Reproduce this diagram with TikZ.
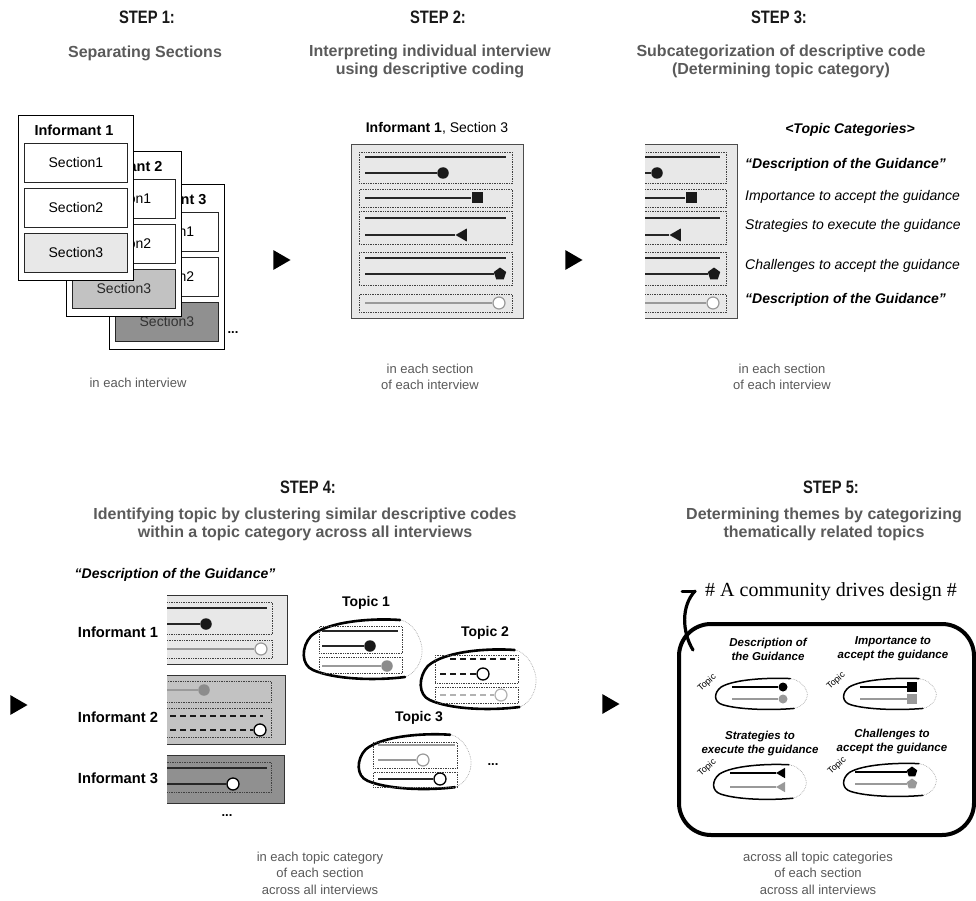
\documentclass[tikz,border=0pt]{standalone}
\usepackage{fontspec}
\setmainfont{Liberation Sans}
\newfontfamily\narrowsans[FakeStretch=0.82]{Liberation Sans}
\newfontfamily\serifface{Liberation Serif}
\usetikzlibrary{shapes.geometric}

\definecolor{paneA}{HTML}{E8E8E8}
\definecolor{paneB}{HTML}{C2C2C2}
\definecolor{paneC}{HTML}{909090}
\definecolor{midgray}{HTML}{8C8C8C}
\definecolor{lightline}{HTML}{9A9A9A}
\definecolor{subgray}{HTML}{5A5A5A}

% one coded section: dotted code groups with marker-ended code lines
\newcommand\codepanel[2]{%
 \begin{scope}[shift={(#1,144)}]
  \node[panelbox, minimum width=172, minimum height=174] (pan#2) at (0,0) {};
  \node[dotbox, minimum width=153, minimum height=31] (da#2) at (8,8) {};
  \node[dotbox, minimum width=153, minimum height=18] (db#2) at (8,45) {};
  \node[dotbox, minimum width=153, minimum height=33] (dc#2) at (8,67) {};
  \node[dotbox, minimum width=153, minimum height=33] (dd#2) at (8,108) {};
  \node[dotbox, minimum width=153, minimum height=18] (de#2) at (8,150) {};
  \coordinate (la#2) at (14,13); \coordinate (lb#2) at (155,13);
  \draw[codeline] (la#2) -- (lb#2);
  \node[bigdot] (ma#2) at (92,29) {};
  \coordinate (lc#2) at (14,29); \draw[codeline] (lc#2) -- (ma#2);
  \node[sqmark] (mb#2) at (126,54) {};
  \coordinate (ld#2) at (14,54); \draw[codeline] (ld#2) -- (mb#2);
  \coordinate (le#2) at (14,74); \coordinate (lf#2) at (155,74);
  \draw[codeline] (le#2) -- (lf#2);
  \node[trimark] (mc#2) at (112,91) {};
  \coordinate (lg#2) at (14,91); \draw[codeline] (lg#2) -- (mc#2);
  \coordinate (lh#2) at (14,114); \coordinate (li#2) at (155,114);
  \draw[codeline] (lh#2) -- (li#2);
  \node[pentmark] (md#2) at (149,130) {};
  \coordinate (lj#2) at (14,130); \draw[codeline] (lj#2) -- (md#2);
  \node[opendotg] (me#2) at (148,159) {};
  \coordinate (lk#2) at (14,159); \draw[grayline] (lk#2) -- (me#2);
 \end{scope}}

% sketched topic outline: bold stroke round the left, faint dotted on the right
\newcommand\topicblob[5]{%
 \begin{scope}[shift={(#1,#2)}, xscale=#3, yscale=#4]
  \draw[blobrest] (102,60) .. controls (115,56) and (122,38) .. (118,26)
        .. controls (114,12) and (105,4) .. (97,3);
  \draw[blobedge, line width=#5] (97,3) .. controls (70,1) and (25,4) .. (8,19)
        .. controls (-2,30) and (-2,48) .. (10,53)
        .. controls (30,62) and (70,64) .. (102,60);
 \end{scope}}

\begin{document}
\begin{tikzpicture}[x=1pt,y=-1pt,
  stephead/.style={font=\fontsize{18}{20}\selectfont\narrowsans\bfseries, text=black!90, inner sep=0},
  subhead/.style={font=\fontsize{16}{18}\selectfont\bfseries, text=subgray, align=center, inner sep=0},
  note/.style={font=\fontsize{13}{16.5}\selectfont, text=black!65, align=center, inner sep=0},
  card/.style={draw=black, line width=0.8pt, fill=white, anchor=north west, inner sep=0},
  cardlab/.style={font=\fontsize{14.5}{16}\selectfont\bfseries, inner sep=0},
  secbox/.style={draw=black!85, line width=0.8pt, fill=white, anchor=north west,
     minimum width=103, minimum height=39, inner sep=0, font=\fontsize{14}{16}\selectfont},
  panelbox/.style={draw=black!70, fill=paneA, line width=1pt, anchor=north west, inner sep=0},
  pane4/.style={draw=black!80, line width=1.2pt, anchor=north west, inner sep=0},
  dotbox/.style={draw=black!75, densely dotted, line width=0.7pt, anchor=north west, inner sep=0},
  codeline/.style={draw=black!85, line width=1.5pt},
  grayline/.style={draw=lightline, line width=1.3pt},
  dashline/.style={draw=black!90, line width=1.5pt, dash pattern=on 6pt off 4pt},
  lightdash/.style={draw=black!30, line width=1.3pt, dash pattern=on 6pt off 4pt},
  bigdot/.style={circle, fill=black!90, minimum size=11.5, inner sep=0},
  graydot/.style={circle, fill=midgray, minimum size=11.5, inner sep=0},
  opendotg/.style={circle, draw=lightline, fill=white, line width=1.2pt, minimum size=12, inner sep=0},
  opendotk/.style={circle, draw=black, fill=white, line width=1.3pt, minimum size=12, inner sep=0},
  opendotl/.style={circle, draw=black!30, fill=white, line width=1.2pt, minimum size=12, inner sep=0},
  sqmark/.style={rectangle, fill=black!90, minimum size=11, inner sep=0},
  trimark/.style={regular polygon, regular polygon sides=3, shape border rotate=90, fill=black!90, minimum size=15, inner sep=0},
  pentmark/.style={regular polygon, regular polygon sides=5, fill=black!90, minimum size=13, inner sep=0},
  stepmark/.style={regular polygon, regular polygon sides=3, shape border rotate=-90, fill=black, minimum size=23, inner sep=0},
  catit/.style={font=\fontsize{14}{16}\selectfont\itshape, anchor=west, inner sep=0},
  catbf/.style={font=\fontsize{14}{16}\selectfont\bfseries\itshape, anchor=west, inner sep=0},
  toplab/.style={font=\fontsize{14}{16}\selectfont\bfseries, inner sep=0},
  blobedge/.style={draw=black, line cap=round, line join=round},
  blobrest/.style={draw=black!35, densely dotted, line width=0.7pt},
  themelab/.style={font=\fontsize{11.5}{14}\selectfont\bfseries\itshape, align=center, inner sep=0},
  tinytopic/.style={font=\fontsize{9}{10}\selectfont, rotate=42, inner sep=0},
  smallline/.style={draw=black, line width=1.2pt},
  smallgray/.style={draw=black!40, line width=1.2pt},
  sdot/.style={circle, fill=black, minimum size=9, inner sep=0},
  sdotg/.style={circle, fill=black!40, minimum size=9, inner sep=0},
  ssq/.style={rectangle, fill=black, minimum size=10, inner sep=0},
  ssqg/.style={rectangle, fill=black!40, minimum size=10, inner sep=0},
  stri/.style={regular polygon, regular polygon sides=3, shape border rotate=90, fill=black, minimum size=12, inner sep=0},
  strig/.style={regular polygon, regular polygon sides=3, shape border rotate=90, fill=black!40, minimum size=12, inner sep=0},
  spent/.style={regular polygon, regular polygon sides=5, fill=black, minimum size=11, inner sep=0},
  spentg/.style={regular polygon, regular polygon sides=5, fill=black!40, minimum size=11, inner sep=0},
  dots/.style={font=\fontsize{13}{14}\selectfont\bfseries, inner sep=0}
]
\useasboundingbox (0,0) rectangle (976,901);

% ---------------- headings ----------------
\node[stephead] (h1) at (147,17) {STEP 1:};
\node[subhead] (t1) at (145,53) {Separating Sections};
\node[stephead] (h2) at (438,17) {STEP 2:};
\node[subhead] (t2) at (430,61) {Interpreting individual interview\\using descriptive coding};
\node[stephead] (h3) at (779,17) {STEP 3:};
\node[subhead] (t3) at (781,61) {Subcategorization of descriptive code\\(Determining topic category)};
\node[stephead] (h4) at (308,487) {STEP 4:};
\node[subhead] (t4) at (305,524) {Identifying topic by clustering similar descriptive codes\\within a topic category across all interviews};
\node[stephead] (h5) at (831,487) {STEP 5:};
\node[subhead] (t5) at (824,524) {Determining themes by categorizing\\thematically related topics};

% ---------------- step 1: stacked interviews ----------------
\node[card, minimum width=115, minimum height=165] (inf3) at (109,184) {};
\node[cardlab] (inf3lab) at (167,199) {Informant 3};
\node[secbox] (s31) at (115,212) {Section1};
\node[secbox] (s32) at (115,257) {Section2};
\node[secbox, fill=paneC, text=black!80] (s33) at (115,302) {Section3};

\node[card, minimum width=115, minimum height=165] (inf2) at (66,151) {};
\node[cardlab] (inf2lab) at (123,166) {Informant 2};
\node[secbox] (s21) at (72,179) {Section1};
\node[secbox] (s22) at (72,224) {Section2};
\node[secbox, fill=paneB, text=black!85] (s23) at (72,269) {Section3};

\node[card, minimum width=115, minimum height=165] (inf1) at (18,115) {};
\node[cardlab] (inf1lab) at (74,130) {Informant 1};
\node[secbox] (s11) at (24,143) {Section1};
\node[secbox] (s12) at (24,188) {Section2};
\node[secbox, fill=paneA] (s13) at (24,233) {Section3};

\node[dots] (more1) at (233,333) {...};
\node[note] (n1) at (138,383) {in each interview};

\node[stepmark] (a12) at (279,260) {};
\node[stepmark] (a23) at (571,260) {};

% ---------------- step 2: coded section ----------------
\node[font=\fontsize{14}{16}\selectfont, inner sep=0] (s2title) at (437,128) {\textbf{Informant 1}, Section 3};
\codepanel{351}{a}
\node[note] (n2) at (430,377) {in each section\\of each interview};

% ---------------- step 3: topic categories ----------------
\begin{scope}
  \clip (645,120) rectangle (760,330);
  \codepanel{565}{b}
\end{scope}
\node[font=\fontsize{14}{16}\selectfont\bfseries\itshape, inner sep=0] (cathead) at (850,130) {<Topic Categories>};
\node[catbf] (c1) at (745,165) {“Description of the Guidance”};
\node[catit] (c2) at (745,197) {Importance to accept the guidance};
\node[catit] (c3) at (745,226) {Strategies to execute the guidance};
\node[catit] (c4) at (745,266) {Challenges to accept the guidance};
\node[catbf] (c5) at (745,300) {“Description of the Guidance”};
\node[note] (n3) at (782,377) {in each section\\of each interview};

% ---------------- step 4: clustering across interviews ----------------
\node[stepmark] (a34) at (16,705) {};
\node[font=\fontsize{14}{16}\selectfont\bfseries\itshape, inner sep=0] (g4) at (175,575) {“Description of the Guidance”};

\begin{scope}
  \clip (167,585) rectangle (300,810);
  % informant 1
  \node[pane4, fill=paneA, minimum width=127, minimum height=69] (q1) at (160,595) {};
  \node[dotbox, minimum width=122, minimum height=32] (q1a) at (150,602) {};
  \node[dotbox, minimum width=122, minimum height=18] (q1b) at (150,640) {};
  \coordinate (q1s) at (160,608); \coordinate (q1e) at (267,608);
  \draw[codeline] (q1s) -- (q1e);
  \node[bigdot] (q1m) at (206,624) {};
  \coordinate (q1t) at (160,624); \draw[codeline] (q1t) -- (q1m);
  \node[opendotg] (q1n) at (261,649) {};
  \coordinate (q1u) at (160,649); \draw[grayline] (q1u) -- (q1n);
  % informant 2
  \node[pane4, fill=paneB, minimum width=125, minimum height=69] (q2) at (160,675) {};
  \node[dotbox, minimum width=121, minimum height=21] (q2a) at (150,681) {};
  \node[dotbox, minimum width=121, minimum height=29] (q2b) at (150,708) {};
  \node[graydot] (q2m) at (204,690) {};
  \coordinate (q2s) at (160,690); \draw[grayline] (q2s) -- (q2m);
  \coordinate (q2t) at (160,716); \coordinate (q2e) at (263,716);
  \draw[dashline] (q2t) -- (q2e);
  \node[opendotk] (q2n) at (260,730) {};
  \coordinate (q2u) at (160,730); \draw[dashline] (q2u) -- (q2n);
  % informant 3
  \node[pane4, fill=paneC, minimum width=124, minimum height=48] (q3) at (160,755) {};
  \node[dotbox, minimum width=121, minimum height=30] (q3a) at (150,762) {};
  \coordinate (q3s) at (160,768); \coordinate (q3e) at (267,768);
  \draw[codeline] (q3s) -- (q3e);
  \node[opendotk] (q3m) at (233,784) {};
  \coordinate (q3t) at (160,784); \draw[codeline] (q3t) -- (q3m);
\end{scope}
\node[font=\fontsize{14.7}{16}\selectfont\bfseries, inner sep=0] (i41) at (118,632) {Informant 1};
\node[font=\fontsize{14.7}{16}\selectfont\bfseries, inner sep=0] (i42) at (118,717) {Informant 2};
\node[font=\fontsize{14.7}{16}\selectfont\bfseries, inner sep=0] (i43) at (118,778) {Informant 3};
\node[dots] (more4) at (227,816) {...};

% topic 1
\topicblob{303}{617}{1}{1}{2.6pt}
\node[toplab] (tp1) at (366,603) {Topic 1};
\node[dotbox, minimum width=83, minimum height=27] (tp1a) at (319,626) {};
\node[dotbox, minimum width=83, minimum height=16] (tp1b) at (319,657) {};
\coordinate (tp1s) at (322,631); \coordinate (tp1e) at (398,631);
\draw[codeline] (tp1s) -- (tp1e);
\node[bigdot] (tp1m) at (370,646) {};
\coordinate (tp1t) at (322,646); \draw[codeline] (tp1t) -- (tp1m);
\node[graydot] (tp1n) at (387,666) {};
\coordinate (tp1u) at (322,666); \draw[grayline] (tp1u) -- (tp1n);

% topic 2
\topicblob{420}{647}{0.975}{1}{2.6pt}
\node[toplab] (tp2) at (485,633) {Topic 2};
\node[dotbox, minimum width=83, minimum height=28] (tp2a) at (435,655) {};
\node[dotbox, minimum width=83, minimum height=16] (tp2b) at (435,687) {};
\coordinate (tp2s) at (450,659); \coordinate (tp2e) at (515,659);
\draw[dashline] (tp2s) -- (tp2e);
\node[opendotk] (tp2m) at (483,674) {};
\coordinate (tp2t) at (440,674); \draw[dashline] (tp2t) -- (tp2m);
\node[opendotl] (tp2n) at (501,695) {};
\coordinate (tp2u) at (440,695); \draw[lightdash] (tp2u) -- (tp2n);

% topic 3
\topicblob{358}{732}{0.95}{0.92}{2.6pt}
\node[toplab] (tp3) at (419,718) {Topic 3};
\node[dotbox, minimum width=84, minimum height=26] (tp3a) at (373,742) {};
\node[dotbox, minimum width=84, minimum height=15] (tp3b) at (373,772) {};
\coordinate (tp3s) at (378,745); \coordinate (tp3e) at (455,745);
\draw[grayline] (tp3s) -- (tp3e);
\node[opendotg] (tp3m) at (423,760) {};
\coordinate (tp3t) at (378,760); \draw[grayline] (tp3t) -- (tp3m);
\node[opendotk] (tp3n) at (440,779) {};
\coordinate (tp3u) at (378,779); \draw[codeline] (tp3u) -- (tp3n);
\node[dots] (more5) at (493,765) {...};

\node[note] (n4) at (320,873) {in each topic category\\of each section\\across all interviews};

% ---------------- step 5: theme ----------------
\node[stepmark] (a45) at (608,704) {};
\node[font=\fontsize{20}{22}\selectfont\serifface, anchor=west, inner sep=0] (theme) at (705,592) {\# A community drives design \#};
\node[draw=black, line width=4pt, rounded corners=32, anchor=north west,
      minimum width=295, minimum height=211, inner sep=0] (themebox) at (677,622) {};
\coordinate (cvS) at (693,650);
\coordinate (cvT) at (695,591);
\coordinate (cvB) at (682,591);
\draw[line width=3.2pt, line cap=round] (cvS) .. controls (682,632) and (681,606) .. (cvT);
\draw[line width=3pt, line cap=round] (cvB) -- (cvT);

\node[themelab] (k1) at (768,649) {Description of\\the Guidance};
\node[themelab] (k2) at (893,649) {Importance to\\accept the guidance};
\node[themelab] (k3) at (760,744) {Strategies to\\execute the guidance};
\node[themelab] (k4) at (892,742) {Challenges to\\accept the guidance};

% description
\topicblob{715}{677}{0.775}{0.524}{1.5pt}
\node[tinytopic] (tt1) at (707,683) {Topic};
\node[sdot] (k1m) at (783,687) {};
\coordinate (k1s) at (732,687); \draw[smallline] (k1s) -- (k1m);
\node[sdotg] (k1n) at (783,699) {};
\coordinate (k1t) at (732,699); \draw[smallgray] (k1t) -- (k1n);
% importance
\topicblob{843}{677}{0.783}{0.524}{1.5pt}
\node[tinytopic] (tt2) at (836,681) {Topic};
\node[ssq] (k2m) at (912,687) {};
\coordinate (k2s) at (860,687); \draw[smallline] (k2s) -- (k2m);
\node[ssqg] (k2n) at (912,699) {};
\coordinate (k2t) at (860,699); \draw[smallgray] (k2t) -- (k2n);
% strategies
\topicblob{713}{763}{0.783}{0.587}{1.5pt}
\node[tinytopic] (tt3) at (707,768) {Topic};
\node[stri] (k3m) at (782,773) {};
\coordinate (k3s) at (730,773); \draw[smallline] (k3s) -- (k3m);
\node[strig] (k3n) at (782,787) {};
\coordinate (k3t) at (730,787); \draw[smallgray] (k3t) -- (k3n);
% challenges
\topicblob{843}{762}{0.783}{0.556}{1.5pt}
\node[tinytopic] (tt4) at (837,766) {Topic};
\node[spent] (k4m) at (912,772) {};
\coordinate (k4s) at (855,772); \draw[smallline] (k4s) -- (k4m);
\node[spentg] (k4n) at (912,784) {};
\coordinate (k4t) at (855,784); \draw[smallgray] (k4t) -- (k4n);

\node[note] (n5) at (818,873) {across all topic categories\\of each section\\across all interviews};
\end{tikzpicture}
\end{document}
